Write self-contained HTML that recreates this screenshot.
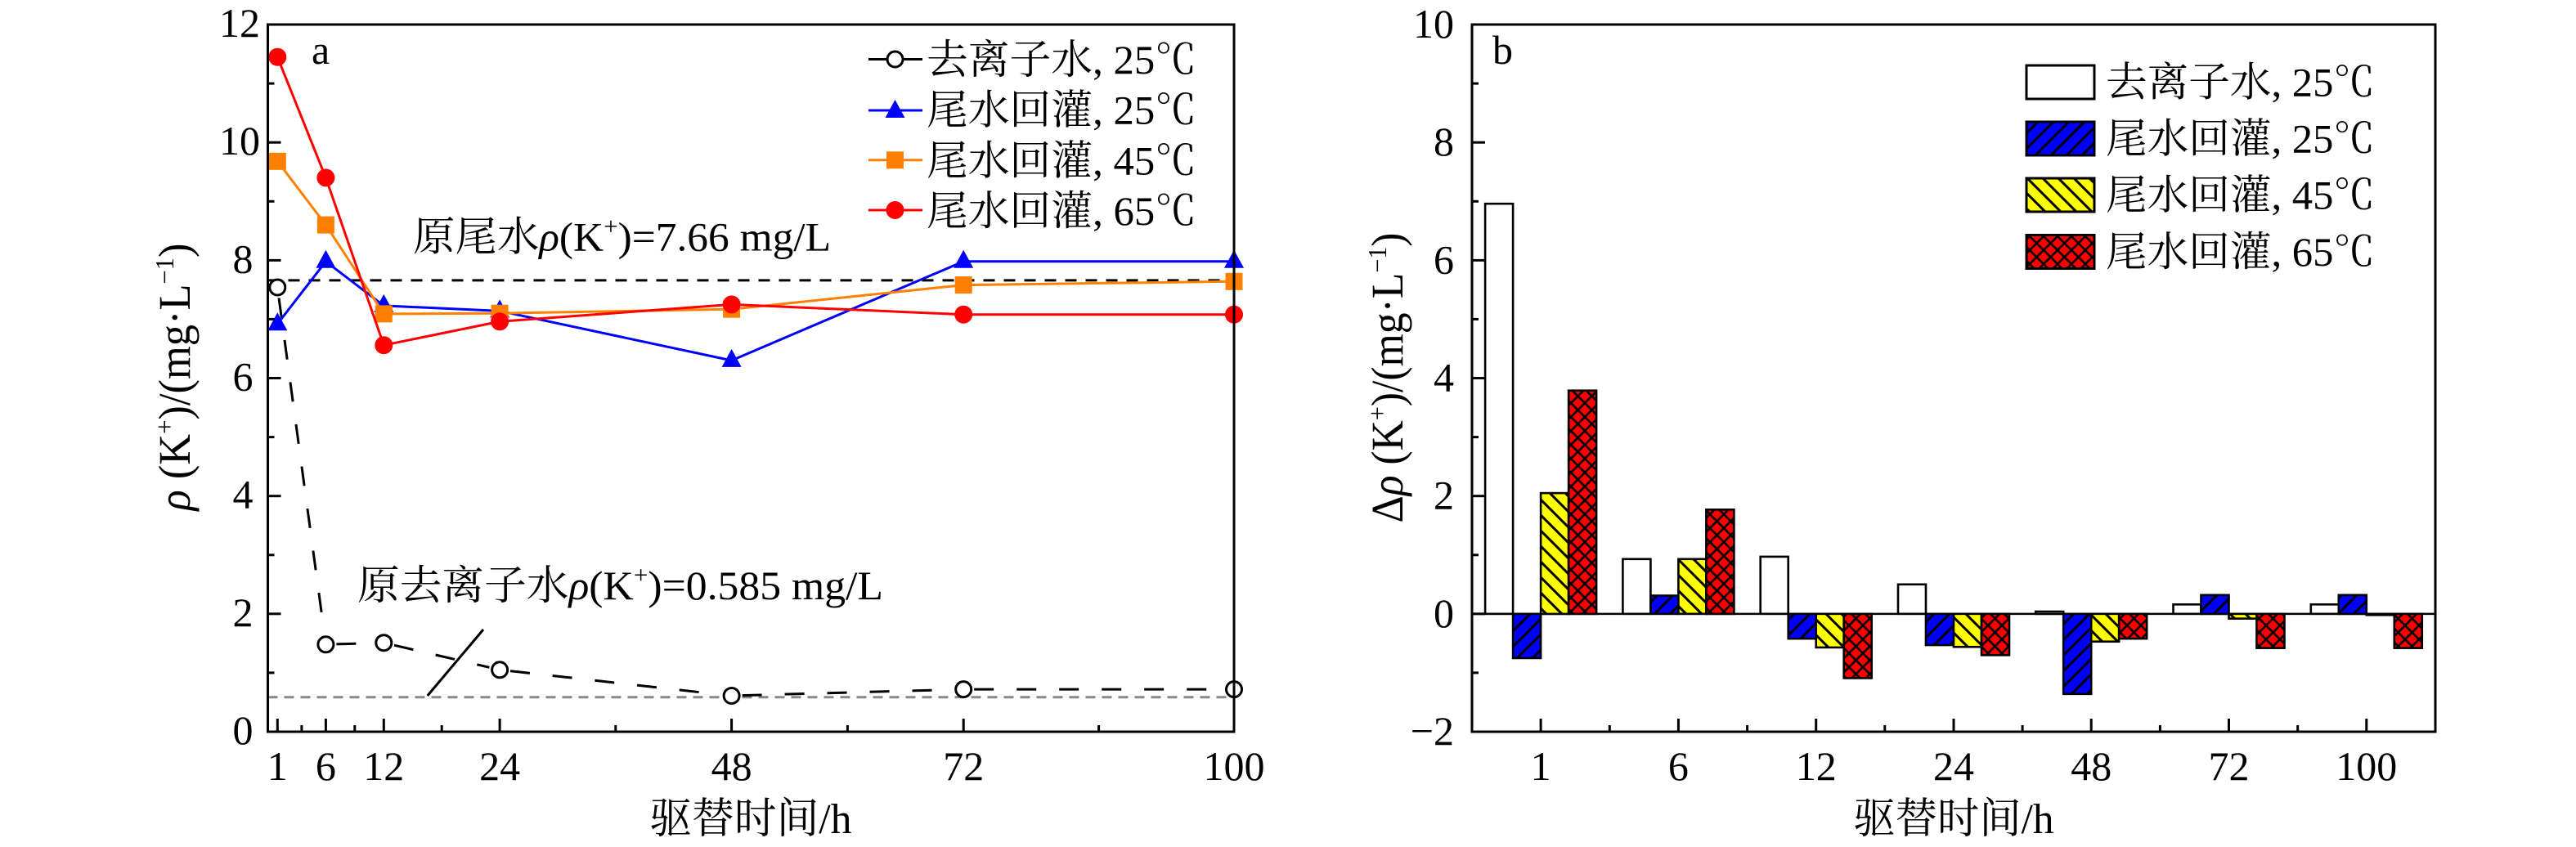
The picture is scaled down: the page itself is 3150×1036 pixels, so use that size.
<!DOCTYPE html>
<html>
<head>
<meta charset="utf-8">
<style>
html,body{margin:0;padding:0;background:#fff;}
svg{display:block;}
text{font-family:"Liberation Serif","Noto Serif CJK SC",serif;fill:#000;}
</style>
</head>
<body>
<svg width="3150" height="1036" viewBox="0 0 3150 1036" xmlns="http://www.w3.org/2000/svg" font-family="'Liberation Serif','Noto Serif CJK SC',serif">
<defs>
  <pattern id="hb" patternUnits="userSpaceOnUse" width="19" height="19">
    <rect width="19" height="19" fill="#0000FF"/>
    <path d="M-5,5 L5,-5 M-5,24 L24,-5 M14,24 L24,14" stroke="#000" stroke-width="3"/>
  </pattern>
  <pattern id="hy" patternUnits="userSpaceOnUse" width="19" height="19">
    <rect width="19" height="19" fill="#FFFF00"/>
    <path d="M-5,-5 L24,24 M14,-5 L24,5 M-5,14 L5,24" stroke="#000" stroke-width="3"/>
  </pattern>
  <pattern id="hr" patternUnits="userSpaceOnUse" width="17" height="17">
    <rect width="17" height="17" fill="#FF0000"/>
    <path d="M-5,5 L5,-5 M-5,22 L22,-5 M12,22 L22,12 M-5,-5 L22,22 M12,-5 L22,5 M-5,12 L5,22" stroke="#000" stroke-width="2.6"/>
  </pattern>
</defs>
<rect width="3150" height="1036" fill="#fff"/>

<!-- ================= PANEL A ================= -->
<line x1="327.5" y1="342.9" x2="1509" y2="342.9" stroke="#000" stroke-width="3" stroke-dasharray="14 11"/>
<line x1="327.5" y1="852.8" x2="1509" y2="852.8" stroke="#888" stroke-width="3" stroke-dasharray="12 8"/>
<line x1="522.7" y1="851" x2="591" y2="770" stroke="#000" stroke-width="3"/>

<g stroke="#000" stroke-width="3" stroke-dasharray="24 28" fill="none">
  <line x1="341.0" y1="364.4" x2="396.7" y2="775.4"/>
  <line x1="411.4" y1="787.9" x2="456.3" y2="786.6"/>
  <line x1="482.0" y1="789.2" x2="598.4" y2="816.3"/>
  <line x1="624.0" y1="820.7" x2="881.7" y2="849.6"/>
  <line x1="907.6" y1="850.6" x2="1165.2" y2="843.5"/>
  <line x1="1191.2" y1="843.1" x2="1496" y2="843.1"/>
</g>
<g stroke="#000" stroke-width="3" fill="#fff">
  <circle cx="339.3" cy="351.5" r="9.5"/>
  <circle cx="398.4" cy="788.3" r="9.5"/>
  <circle cx="469.3" cy="786.2" r="9.5"/>
  <circle cx="611.1" cy="819.3" r="9.5"/>
  <circle cx="894.6" cy="851.0" r="9.5"/>
  <circle cx="1178.2" cy="843.1" r="9.5"/>
  <circle cx="1509" cy="843.1" r="9.5"/>
</g>

<polyline points="339.3,396.2 398.4,319.8 469.3,373.9 611.1,380.4 894.6,440.9 1178.2,319.8 1509,319.8" fill="none" stroke="#0000FF" stroke-width="3"/>
<g fill="#0000FF">
  <polygon points="339.3,382.2 327.3,404.2 351.3,404.2"/>
  <polygon points="398.4,305.8 386.4,327.8 410.4,327.8"/>
  <polygon points="469.3,359.9 457.3,381.9 481.3,381.9"/>
  <polygon points="611.1,366.4 599.1,388.4 623.1,388.4"/>
  <polygon points="894.6,426.9 882.6,448.9 906.6,448.9"/>
  <polygon points="1178.2,305.8 1166.2,327.8 1190.2,327.8"/>
  <polygon points="1509,305.8 1497,327.8 1521,327.8"/>
</g>

<polyline points="339.3,197.3 398.4,275.1 469.3,383.9 611.1,383.2 894.6,378.2 1178.2,348.6 1509,344.3" fill="none" stroke="#FF8000" stroke-width="3"/>
<g fill="#FF8000">
  <rect x="328.8" y="186.8" width="21" height="21"/>
  <rect x="387.9" y="264.6" width="21" height="21"/>
  <rect x="458.8" y="373.4" width="21" height="21"/>
  <rect x="600.6" y="372.7" width="21" height="21"/>
  <rect x="884.1" y="367.7" width="21" height="21"/>
  <rect x="1167.7" y="338.1" width="21" height="21"/>
  <rect x="1498.5" y="333.8" width="21" height="21"/>
</g>

<polyline points="339.3,69.7 398.4,217.4 469.3,422.2 611.1,393.3 894.6,372.4 1178.2,384.7 1509,384.7" fill="none" stroke="#FF0000" stroke-width="3"/>
<g fill="#FF0000">
  <circle cx="339.3" cy="69.7" r="11"/>
  <circle cx="398.4" cy="217.4" r="11"/>
  <circle cx="469.3" cy="422.2" r="11"/>
  <circle cx="611.1" cy="393.3" r="11"/>
  <circle cx="894.6" cy="372.4" r="11"/>
  <circle cx="1178.2" cy="384.7" r="11"/>
  <circle cx="1509" cy="384.7" r="11"/>
</g>

<rect x="327.5" y="30" width="1181.5" height="865" fill="none" stroke="#000" stroke-width="3"/>
<g stroke="#000" stroke-width="3">
  <line x1="327.5" y1="895" x2="343.5" y2="895"/>
  <line x1="327.5" y1="750.8" x2="343.5" y2="750.8"/>
  <line x1="327.5" y1="606.7" x2="343.5" y2="606.7"/>
  <line x1="327.5" y1="462.5" x2="343.5" y2="462.5"/>
  <line x1="327.5" y1="318.4" x2="343.5" y2="318.4"/>
  <line x1="327.5" y1="174.2" x2="343.5" y2="174.2"/>
  <line x1="327.5" y1="822.9" x2="335.5" y2="822.9"/>
  <line x1="327.5" y1="678.8" x2="335.5" y2="678.8"/>
  <line x1="327.5" y1="534.6" x2="335.5" y2="534.6"/>
  <line x1="327.5" y1="390.4" x2="335.5" y2="390.4"/>
  <line x1="327.5" y1="246.3" x2="335.5" y2="246.3"/>
  <line x1="327.5" y1="102.1" x2="335.5" y2="102.1"/>
  <line x1="339.3" y1="895" x2="339.3" y2="879"/>
  <line x1="398.4" y1="895" x2="398.4" y2="879"/>
  <line x1="469.3" y1="895" x2="469.3" y2="879"/>
  <line x1="611.1" y1="895" x2="611.1" y2="879"/>
  <line x1="894.6" y1="895" x2="894.6" y2="879"/>
  <line x1="1178.2" y1="895" x2="1178.2" y2="879"/>
  <line x1="368.9" y1="895" x2="368.9" y2="887"/>
  <line x1="433.8" y1="895" x2="433.8" y2="887"/>
  <line x1="540.2" y1="895" x2="540.2" y2="887"/>
  <line x1="752.8" y1="895" x2="752.8" y2="887"/>
  <line x1="1036.4" y1="895" x2="1036.4" y2="887"/>
  <line x1="1343.6" y1="895" x2="1343.6" y2="887"/>
</g>
<g font-size="50" text-anchor="middle">
  <text x="293" y="45">12</text>
  <text x="293" y="189.2">10</text>
  <text x="297" y="333.4">8</text>
  <text x="297" y="477.5">6</text>
  <text x="297" y="621.7">4</text>
  <text x="297" y="765.8">2</text>
  <text x="297" y="910">0</text>
</g>
<g font-size="50" text-anchor="middle">
  <text x="339.3" y="954">1</text>
  <text x="398.4" y="954">6</text>
  <text x="469.3" y="954">12</text>
  <text x="611.1" y="954">24</text>
  <text x="894.6" y="954">48</text>
  <text x="1178.2" y="954">72</text>
  <text x="1509" y="954">100</text>
</g>
<text x="918" y="1019" font-size="52" text-anchor="middle" textLength="247" lengthAdjust="spacingAndGlyphs">驱替时间/h</text>
<text transform="translate(232,461) rotate(-90)" font-size="55" text-anchor="middle" textLength="327" lengthAdjust="spacingAndGlyphs"><tspan font-style="italic">ρ</tspan> (K<tspan dy="-20" font-size="32">+</tspan><tspan dy="20">)/(mg·L</tspan><tspan dy="-20" font-size="32">−1</tspan><tspan dy="20">)</tspan></text>
<text x="381" y="78" font-size="50">a</text>

<text x="505" y="306.5" font-size="50" textLength="511" lengthAdjust="spacingAndGlyphs">原尾水<tspan font-style="italic">ρ</tspan>(K<tspan dy="-20" font-size="30">+</tspan><tspan dy="20">)=7.66 mg/L</tspan></text>
<text x="437" y="733" font-size="50" textLength="643" lengthAdjust="spacingAndGlyphs">原去离子水<tspan font-style="italic">ρ</tspan>(K<tspan dy="-20" font-size="30">+</tspan><tspan dy="20">)=0.585 mg/L</tspan></text>

<g stroke-width="3">
  <line x1="1062" y1="72.5" x2="1128" y2="72.5" stroke="#000"/>
  <circle cx="1094.5" cy="72.5" r="9.5" fill="#fff" stroke="#000"/>
  <line x1="1062" y1="135" x2="1128" y2="135" stroke="#0000FF"/>
  <polygon points="1094.5,122 1082.5,144 1106.5,144" fill="#0000FF" stroke="none"/>
  <line x1="1062" y1="195.8" x2="1128" y2="195.8" stroke="#FF8000"/>
  <rect x="1084" y="185.3" width="21" height="21" fill="#FF8000" stroke="none"/>
  <line x1="1062" y1="257" x2="1128" y2="257" stroke="#FF0000"/>
  <circle cx="1094.5" cy="257" r="11" fill="#FF0000" stroke="none"/>
</g>
<g font-size="50">
  <text x="1133" y="90" textLength="330" lengthAdjust="spacingAndGlyphs">去离子水, 25℃</text>
  <text x="1133" y="151.7" textLength="330" lengthAdjust="spacingAndGlyphs">尾水回灌, 25℃</text>
  <text x="1133" y="213.3" textLength="330" lengthAdjust="spacingAndGlyphs">尾水回灌, 45℃</text>
  <text x="1133" y="275" textLength="330" lengthAdjust="spacingAndGlyphs">尾水回灌, 65℃</text>
</g>

<!-- ================= PANEL B ================= -->
<line x1="1800" y1="750.84" x2="2978" y2="750.84" stroke="#000" stroke-width="2.5"/>
<g stroke="#000" stroke-width="2.6">
  <rect x="1816.1" y="249.2" width="34" height="501.6" fill="#fff"/>
  <rect x="1850.1" y="750.84" width="34" height="54.1" fill="url(#hb)"/>
  <rect x="1884.1" y="603.1" width="34" height="147.8" fill="url(#hy)"/>
  <rect x="1918.1" y="477.7" width="34" height="273.2" fill="url(#hr)"/>
  <rect x="1984.4" y="683.8" width="34" height="67.0" fill="#fff"/>
  <rect x="2018.4" y="728.5" width="34" height="22.3" fill="url(#hb)"/>
  <rect x="2052.4" y="683.8" width="34" height="67.0" fill="url(#hy)"/>
  <rect x="2086.4" y="623.3" width="34" height="127.6" fill="url(#hr)"/>
  <rect x="2152.7" y="680.9" width="34" height="69.9" fill="#fff"/>
  <rect x="2186.7" y="750.84" width="34" height="30.3" fill="url(#hb)"/>
  <rect x="2220.7" y="750.84" width="34" height="41.1" fill="url(#hy)"/>
  <rect x="2254.7" y="750.84" width="34" height="78.6" fill="url(#hr)"/>
  <rect x="2321.0" y="714.8" width="34" height="36.0" fill="#fff"/>
  <rect x="2355.0" y="750.84" width="34" height="38.2" fill="url(#hb)"/>
  <rect x="2389.0" y="750.84" width="34" height="40.4" fill="url(#hy)"/>
  <rect x="2423.0" y="750.84" width="34" height="50.5" fill="url(#hr)"/>
  <rect x="2489.2" y="748.0" width="34" height="2.9" fill="#fff"/>
  <rect x="2523.2" y="750.84" width="34" height="98.0" fill="url(#hb)"/>
  <rect x="2557.2" y="750.84" width="34" height="33.9" fill="url(#hy)"/>
  <rect x="2591.2" y="750.84" width="34" height="30.3" fill="url(#hr)"/>
  <rect x="2657.5" y="739.3" width="34" height="11.5" fill="#fff"/>
  <rect x="2691.5" y="727.8" width="34" height="23.1" fill="url(#hb)"/>
  <rect x="2725.5" y="750.84" width="34" height="5.8" fill="url(#hy)"/>
  <rect x="2759.5" y="750.84" width="34" height="41.8" fill="url(#hr)"/>
  <rect x="2825.8" y="739.3" width="34" height="11.5" fill="#fff"/>
  <rect x="2859.8" y="727.8" width="34" height="23.1" fill="url(#hb)"/>
  <rect x="2893.8" y="750.84" width="34" height="1.4" fill="url(#hy)"/>
  <rect x="2927.8" y="750.84" width="34" height="41.8" fill="url(#hr)"/>
</g>

<rect x="1800" y="30" width="1178" height="865" fill="none" stroke="#000" stroke-width="3"/>
<g stroke="#000" stroke-width="3">
  <line x1="1800" y1="895" x2="1816" y2="895"/>
  <line x1="1800" y1="750.8" x2="1816" y2="750.8"/>
  <line x1="1800" y1="606.7" x2="1816" y2="606.7"/>
  <line x1="1800" y1="462.5" x2="1816" y2="462.5"/>
  <line x1="1800" y1="318.4" x2="1816" y2="318.4"/>
  <line x1="1800" y1="174.2" x2="1816" y2="174.2"/>
  <line x1="1800" y1="822.9" x2="1808" y2="822.9"/>
  <line x1="1800" y1="678.8" x2="1808" y2="678.8"/>
  <line x1="1800" y1="534.6" x2="1808" y2="534.6"/>
  <line x1="1800" y1="390.4" x2="1808" y2="390.4"/>
  <line x1="1800" y1="246.3" x2="1808" y2="246.3"/>
  <line x1="1800" y1="102.1" x2="1808" y2="102.1"/>
  <line x1="1884.1" y1="895" x2="1884.1" y2="879"/>
  <line x1="2052.4" y1="895" x2="2052.4" y2="879"/>
  <line x1="2220.7" y1="895" x2="2220.7" y2="879"/>
  <line x1="2389.0" y1="895" x2="2389.0" y2="879"/>
  <line x1="2557.2" y1="895" x2="2557.2" y2="879"/>
  <line x1="2725.5" y1="895" x2="2725.5" y2="879"/>
  <line x1="2893.8" y1="895" x2="2893.8" y2="879"/>
  <line x1="1968.3" y1="895" x2="1968.3" y2="887"/>
  <line x1="2136.6" y1="895" x2="2136.6" y2="887"/>
  <line x1="2304.8" y1="895" x2="2304.8" y2="887"/>
  <line x1="2473.1" y1="895" x2="2473.1" y2="887"/>
  <line x1="2641.4" y1="895" x2="2641.4" y2="887"/>
  <line x1="2809.7" y1="895" x2="2809.7" y2="887"/>
</g>
<g font-size="50" text-anchor="end">
  <text x="1778" y="46">10</text>
  <text x="1778" y="190.2">8</text>
  <text x="1778" y="334.3">6</text>
  <text x="1778" y="478.5">4</text>
  <text x="1778" y="622.7">2</text>
  <text x="1778" y="766.8">0</text>
  <text x="1778" y="911">−2</text>
</g>
<g font-size="50" text-anchor="middle">
  <text x="1884.1" y="954">1</text>
  <text x="2052.4" y="954">6</text>
  <text x="2220.7" y="954">12</text>
  <text x="2389.0" y="954">24</text>
  <text x="2557.2" y="954">48</text>
  <text x="2725.5" y="954">72</text>
  <text x="2893.8" y="954">100</text>
</g>
<text x="2389" y="1019" font-size="52" text-anchor="middle" textLength="245" lengthAdjust="spacingAndGlyphs">驱替时间/h</text>
<text transform="translate(1715,462) rotate(-90)" font-size="55" text-anchor="middle" textLength="355" lengthAdjust="spacingAndGlyphs">Δ<tspan font-style="italic">ρ</tspan> (K<tspan dy="-20" font-size="32">+</tspan><tspan dy="20">)/(mg·L</tspan><tspan dy="-20" font-size="32">−1</tspan><tspan dy="20">)</tspan></text>
<text x="1825" y="78" font-size="50">b</text>

<g stroke="#000" stroke-width="3">
  <rect x="2478" y="80" width="83" height="41" fill="#fff"/>
  <rect x="2478" y="149" width="83" height="41" fill="url(#hb)"/>
  <rect x="2478" y="218" width="83" height="41" fill="url(#hy)"/>
  <rect x="2478" y="287.5" width="83" height="41" fill="url(#hr)"/>
</g>
<g font-size="50">
  <text x="2575" y="117.5" textLength="329" lengthAdjust="spacingAndGlyphs">去离子水, 25℃</text>
  <text x="2575" y="186.5" textLength="329" lengthAdjust="spacingAndGlyphs">尾水回灌, 25℃</text>
  <text x="2575" y="255.5" textLength="329" lengthAdjust="spacingAndGlyphs">尾水回灌, 45℃</text>
  <text x="2575" y="325" textLength="329" lengthAdjust="spacingAndGlyphs">尾水回灌, 65℃</text>
</g>
</svg>
</body>
</html>
